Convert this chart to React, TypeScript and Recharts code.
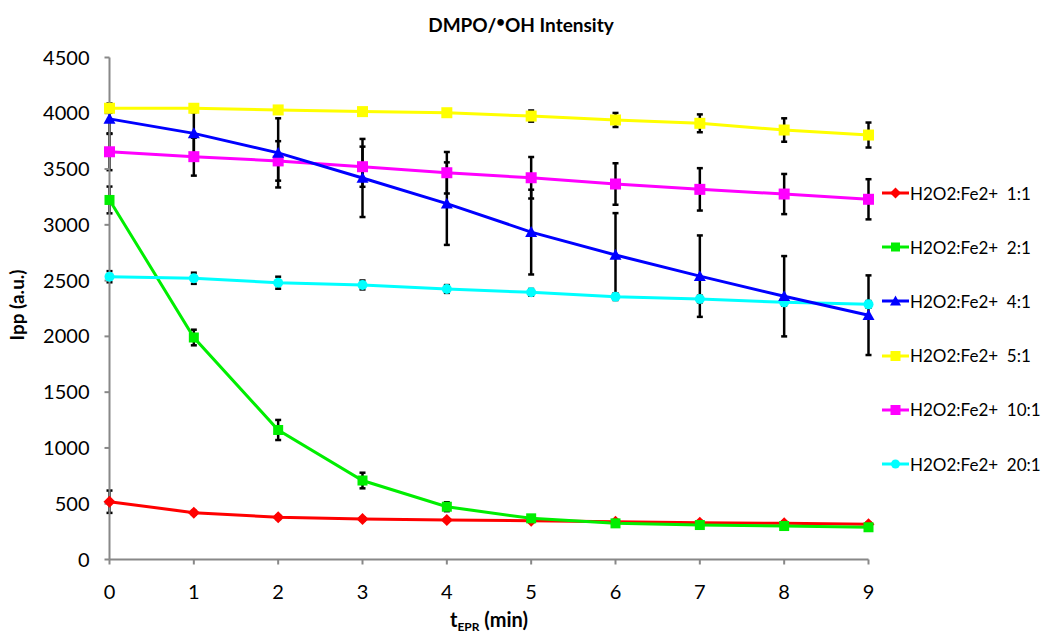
import React from "react";
import {
  LineChart,
  Line,
  XAxis,
  YAxis,
  ErrorBar,
} from "recharts";

const times = [0, 1, 2, 3, 4, 5, 6, 7, 8, 9];
const yTicks = [0, 500, 1000, 1500, 2000, 2500, 3000, 3500, 4000, 4500];

// mean values and error (std)
const r1 = [518, 420, 378, 363, 354, 348, 339, 330, 324, 316];
const r1Err = [100, 15, 15, 15, 15, 15, 15, 15, 15, 15];
const r2 = [3223, 1990, 1161, 708, 473, 369, 324, 309, 300, 289];
const r2Err = [120, 70, 90, 70, 40, 20, 15, 15, 15, 15];
const r4 = [3950, 3820, 3645, 3420, 3190, 2935, 2730, 2540, 2360, 2190];
const r4Err = [135, 190, 310, 350, 370, 380, 375, 365, 360, 357];
const r5 = [4045, 4045, 4030, 4015, 4005, 3975, 3940, 3910, 3850, 3805];
const r5Err = [40, 30, 30, 30, 30, 50, 63, 80, 105, 112];
const r10 = [3655, 3611, 3573, 3521, 3467, 3422, 3366, 3318, 3276, 3229];
const r10Err = [165, 170, 177, 180, 186, 186, 186, 190, 180, 180];
const r20 = [2535, 2521, 2481, 2461, 2425, 2395, 2356, 2335, 2305, 2287];
const r20Err = [50, 50, 54, 40, 35, 30, 30, 30, 30, 30];

const data = times.map((t, i) => ({
  t,
  r1: r1[i], r1e: r1Err[i],
  r2: r2[i], r2e: r2Err[i],
  r4: r4[i], r4e: r4Err[i],
  r5: r5[i], r5e: r5Err[i],
  r10: r10[i], r10e: r10Err[i],
  r20: r20[i], r20e: r20Err[i],
}));

const FONT = "Lato, 'Open Sans', sans-serif";

type Shape = "diamond" | "square" | "triangle" | "circle";

function Marker({ cx, cy, shape, size, fill }: { cx: number; cy: number; shape: Shape; size: number; fill: string }) {
  if (cx == null || cy == null) return null;
  const h = size / 2;
  if (shape === "diamond")
    return <polygon points={`${cx},${cy - h} ${cx + h},${cy} ${cx},${cy + h} ${cx - h},${cy}`} fill={fill} />;
  if (shape === "square") return <rect x={cx - h} y={cy - h} width={size} height={size} fill={fill} />;
  if (shape === "triangle")
    return <polygon points={`${cx},${cy - h} ${cx + h},${cy + h * 0.8} ${cx - h},${cy + h * 0.8}`} fill={fill} />;
  return <circle cx={cx} cy={cy} r={h} fill={fill} />;
}

const series = [
  { key: "r1", name: "H2O2:Fe2+  1:1", color: "#ff0000", shape: "diamond" as Shape, size: 12 },
  { key: "r2", name: "H2O2:Fe2+  2:1", color: "#00ee00", shape: "square" as Shape, size: 10 },
  { key: "r4", name: "H2O2:Fe2+  4:1", color: "#0000ff", shape: "triangle" as Shape, size: 12 },
  { key: "r5", name: "H2O2:Fe2+  5:1", color: "#ffff00", shape: "square" as Shape, size: 11 },
  { key: "r10", name: "H2O2:Fe2+  10:1", color: "#ff00ff", shape: "square" as Shape, size: 11 },
  { key: "r20", name: "H2O2:Fe2+  20:1", color: "#00ffff", shape: "circle" as Shape, size: 10 },
];

const drawOrder = ["r1", "r2", "r20", "r10", "r4", "r5"];

function LegendBox() {
  return (
    <div style={{ position: "absolute", left: 882, top: 166, width: 164, fontFamily: FONT, fontSize: 17, color: "#000" }}>
      {series.map((s) => (
        <div key={s.key} style={{ height: 54.2, display: "flex", alignItems: "center" }}>
          <svg width={28} height={14} style={{ flex: "none" }}>
            <line x1={0} y1={7} x2={27} y2={7} stroke={s.color} strokeWidth={3} />
            <Marker cx={13.5} cy={7} shape={s.shape} size={s.size - 1} fill={s.color} />
          </svg>
          <span style={{ whiteSpace: "pre" }}>{s.name}</span>
        </div>
      ))}
    </div>
  );
}

export default function App() {
  return (
    <div style={{ position: "absolute", left: 0, top: 0, width: 1046, height: 637, background: "#fff" }}>
      <LineChart
        width={1046}
        height={637}
        data={data}
        margin={{ top: 57.5, right: 177.5, bottom: 0, left: 0 }}
      >
        <text x={521} y={32} textAnchor="middle" fontFamily={FONT} fontWeight={700} fontSize={19} fill="#000">
          DMPO/
          <tspan dy={-5} fontSize={15}>•</tspan>
          <tspan dy={5}>OH Intensity</tspan>
        </text>
        <text x={24} y={305} transform="rotate(-90 24 305)" textAnchor="middle" fontFamily={FONT} fontWeight={700} fontSize={19} fill="#000">
          Ipp (a.u.)
        </text>
        <text x={489} y={627} textAnchor="middle" fontFamily={FONT} fontWeight={700} fontSize={20} fill="#000">
          t<tspan fontSize={12} dy={4}>EPR</tspan>
          <tspan dy={-4}> (min)</tspan>
        </text>
        <XAxis
          dataKey="t"
          type="number"
          domain={[0, 9]}
          ticks={times}
          height={77.5}
          tickSize={5}
          tickMargin={20}
          stroke="#888"
          strokeWidth={2}
          tick={{ fill: "#000", fontSize: 20, fontFamily: FONT }}
        />
        <YAxis
          type="number"
          domain={[0, 4500]}
          ticks={yTicks}
          width={109.5}
          tickSize={5}
          tickMargin={15}
          stroke="#888"
          strokeWidth={2}
          tick={{ fill: "#000", fontSize: 20, fontFamily: FONT }}
        />
        {drawOrder.map((k) => {
          const s = series.find((x) => x.key === k)!;
          return (
            <Line
              key={s.key}
              dataKey={s.key}
              name={s.name}
              stroke={s.color}
              strokeWidth={3}
              isAnimationActive={false}
              dot={(p: any) => <Marker key={`${s.key}-${p.index}`} cx={p.cx} cy={p.cy} shape={s.shape} size={s.size} fill={s.color} />}
              activeDot={false}
            >
              <ErrorBar dataKey={`${s.key}e`} direction="y" width={3} stroke="#000" strokeWidth={2.5} />
            </Line>
          );
        })}
      </LineChart>
      <LegendBox />
    </div>
  );
}
